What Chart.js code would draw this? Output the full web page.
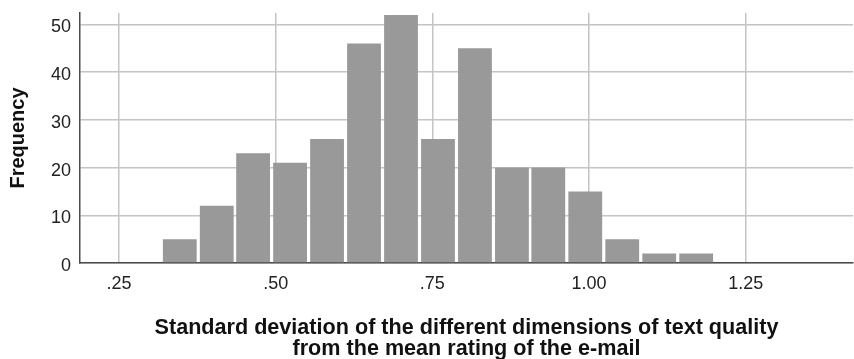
<!DOCTYPE html>
<html>
<head>
<meta charset="utf-8">
<script src="https://cdn.jsdelivr.net/npm/chart.js@4"></script>
<style>
  html, body { margin: 0; padding: 0; background: #fff; }
  #wrap { width: 854px; height: 359px; position: relative; }
</style>
</head>
<body>
<div id="wrap"><canvas id="c"></canvas></div>
<script>
// histogram: bin centres and frequencies
const binCenters = [0.347, 0.406, 0.464, 0.523, 0.582, 0.641, 0.700, 0.759, 0.818, 0.877, 0.935, 0.994, 1.053, 1.112, 1.171];
const frequencies = [5, 12, 23, 21, 26, 46, 52, 26, 45, 20, 20, 15, 5, 2, 2];
const xTickValues = [0.25, 0.50, 0.75, 1.00, 1.25];
const xTickLabels = ['.25', '.50', '.75', '1.00', '1.25'];
const yTickValues = [0, 10, 20, 30, 40, 50];
const xTitle = ['Standard deviation of the different dimensions of text quality', 'from the mean rating of the e-mail'];
const yTitle = 'Frequency';

Chart.defaults.font.family = '"Liberation Sans", Arial, Helvetica, sans-serif';
Chart.defaults.color = '#222';

const gridColor = '#c4c4c4';
const axisColor = '#4a4a4a';

new Chart(document.getElementById('c'), {
  type: 'bar',
  data: {
    datasets: [{
      data: binCenters.map((x, i) => ({ x, y: frequencies[i] })),
      backgroundColor: '#999999',
      borderWidth: 0,
      barPercentage: 0.93,
      categoryPercentage: 1
    }]
  },
  options: {
    responsive: true, maintainAspectRatio: false, animation: false,
    layout: { padding: { top: 13, right: 1, left: 0, bottom: 0 } },
    plugins: { legend: { display: false }, tooltip: { enabled: false } },
    scales: {
      x: {
        type: 'linear', min: 0.1878, max: 1.4212, offset: false,
        afterBuildTicks: s => { s.ticks = xTickValues.map(v => ({ value: v })); },
        afterFit: s => { s.height = 96; s.paddingLeft = 0; s.paddingRight = 0; },
        ticks: {
          padding: 10, maxRotation: 0, autoSkip: false,
          font: { size: 18 }, color: '#222',
          callback: v => xTickLabels[xTickValues.indexOf(v)] ?? ''
        },
        grid: { color: gridColor, lineWidth: 1.5, drawTicks: false, offset: false },
        border: { display: true, color: axisColor, width: 1.5 },
        title: {
          display: true, text: xTitle, color: '#111',
          font: { size: 21.6, weight: 'bold', lineHeight: 1.0 },
          padding: { top: 0, bottom: -1 }
        }
      },
      y: {
        min: 0, max: 52.4,
        afterBuildTicks: s => { s.ticks = yTickValues.map(v => ({ value: v })); },
        afterFit: s => { s.width = 80; s.paddingTop = 0; s.paddingBottom = 0; },
        ticks: { padding: 9, font: { size: 18 }, color: '#222', labelOffset: 3 },
        grid: { color: gridColor, lineWidth: 1.5, drawTicks: false },
        border: { display: true, color: axisColor, width: 1.5 },
        title: {
          display: true, text: yTitle, color: '#111',
          font: { size: 20, weight: 'bold' },
          padding: { top: 6, bottom: 0 }
        }
      }
    }
  }
});
</script>
</body>
</html>
